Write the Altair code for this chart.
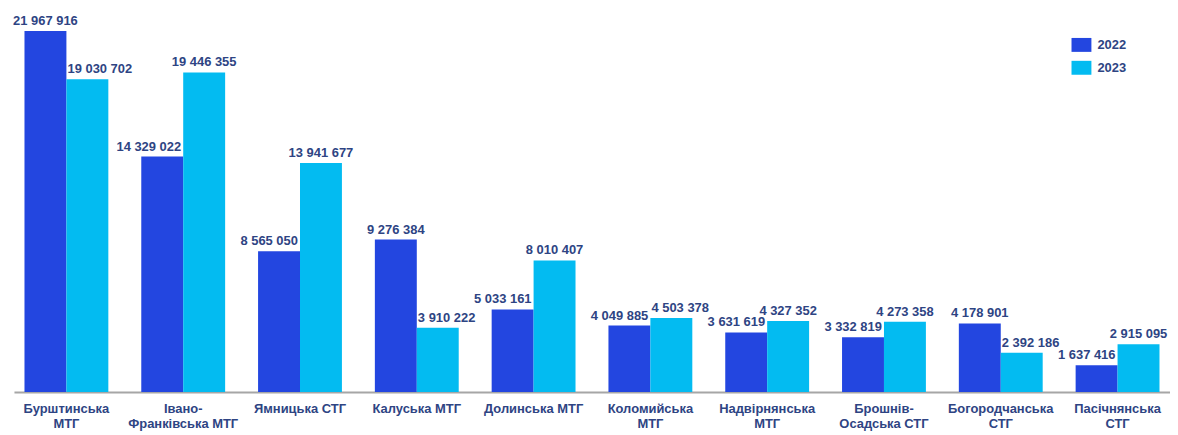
import altair as alt
import pandas as pd

categories = [
    "Бурштинська\nМТГ",
    "Івано-\nФранківська МТГ",
    "Ямницька СТГ",
    "Калуська МТГ",
    "Долинська МТГ",
    "Коломийська\nМТГ",
    "Надвірнянська\nМТГ",
    "Брошнів-\nОсадська СТГ",
    "Богородчанська\nСТГ",
    "Пасічнянська\nСТГ",
]
years = ["2022", "2023"]
values_2022 = [21967916, 14329022, 8565050, 9276384, 5033161, 4049885, 3631619, 3332819, 4178901, 1637416]
values_2023 = [19030702, 19446355, 13941677, 3910222, 8010407, 4503378, 4327352, 4273358, 2392186, 2915095]

C2022 = "#2346E0"
C2023 = "#03BBF1"
NAVY = "#2E4483"
FONT = "Liberation Sans"


def fmt(v):
    return f"{v:,}".replace(",", " ")


rows = []
for c, a, b in zip(categories, values_2022, values_2023):
    close = abs(a - b) < 600000
    rows.append({"cat": c, "year": "2022", "value": a, "label": fmt(a),
                 "pos": "right" if (a < b or close) else "center"})
    rows.append({"cat": c, "year": "2023", "value": b, "label": fmt(b),
                 "pos": "left" if (b < a or close) else "center"})
df = pd.DataFrame(rows)

base = alt.Chart(df).encode(
    x=alt.X(
        "cat:N",
        sort=categories,
        scale=alt.Scale(paddingInner=0.282, paddingOuter=0.09, round=False),
        axis=alt.Axis(
            title=None,
            labelExpr="split(datum.label, '\\n')",
            labelFont=FONT,
            labelFontSize=13,
            labelFontWeight="bold",
            labelColor=NAVY,
            labelLineHeight=16,
            labelAngle=0,
            labelPadding=10,
            labelOverlap=False,
            ticks=False,
            domainColor="#A6A6A6",
            domainWidth=2,
            grid=False,
        ),
    ),
    xOffset=alt.XOffset("year:N", sort=years, scale=alt.Scale(paddingInner=0, paddingOuter=0)),
    y=alt.Y("value:Q", scale=alt.Scale(domain=[0, 23300000], nice=False), axis=None),
)

bars = base.mark_bar().encode(
    color=alt.Color(
        "year:N",
        scale=alt.Scale(domain=years, range=[C2022, C2023]),
        legend=alt.Legend(
            title=None,
            orient="none",
            legendX=1063,
            legendY=26,
            symbolType="M-1,-0.7H1V0.7H-1Z",
            symbolSize=400,
            symbolStrokeWidth=0,
            symbolOpacity=1,
            labelFont=FONT,
            labelFontSize=13,
            labelFontWeight="bold",
            labelColor=NAVY,
            labelOffset=6,
            rowPadding=6,
        ),
    )
)

text_kw = dict(baseline="bottom", dy=-3, font=FONT, fontSize=13, fontWeight="bold", color=NAVY)
t_center = base.transform_filter(alt.datum.pos == "center").mark_text(align="center", **text_kw).encode(text="label:N")
t_right = base.transform_filter(alt.datum.pos == "right").mark_text(align="right", dx=19, **text_kw).encode(text="label:N")
t_left = base.transform_filter(alt.datum.pos == "left").mark_text(align="left", dx=-20, **text_kw).encode(text="label:N")

chart = (
    alt.layer(bars, t_center, t_right, t_left)
    .properties(
        width=1162,
        height=385,
        autosize=alt.AutoSizeParams(type="none"),
        padding={"left": 6, "top": 0, "right": 0, "bottom": 40},
    )
    .configure_view(stroke=None)
)

chart.save("out.html", embed_options={"renderer": "svg", "actions": False})
